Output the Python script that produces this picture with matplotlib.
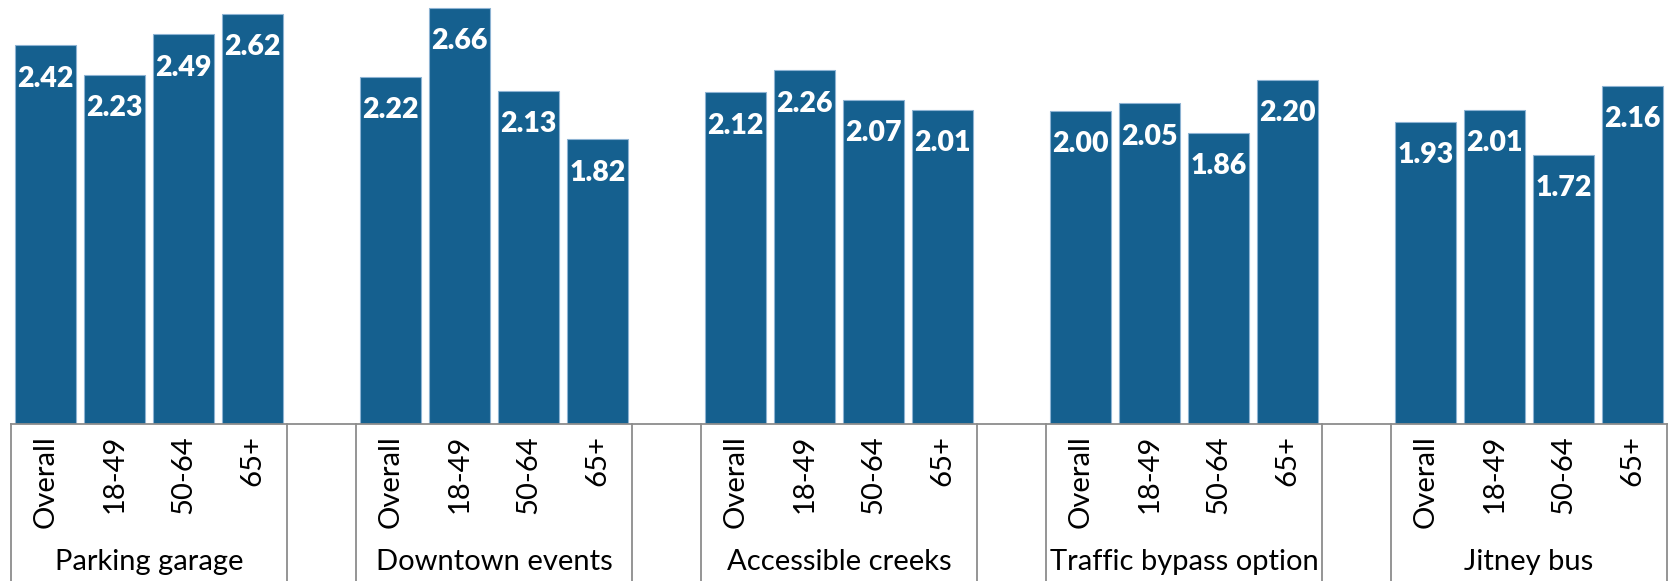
import matplotlib
matplotlib.use("Agg")
import matplotlib.pyplot as plt
import matplotlib.transforms as mtransforms

groups = ["Parking garage", "Downtown events", "Accessible creeks",
          "Traffic bypass option", "Jitney bus"]
subgroups = ["Overall", "18-49", "50-64", "65+"]
parking = [2.42, 2.23, 2.49, 2.62]
downtown = [2.22, 2.66, 2.13, 1.82]
creeks = [2.12, 2.26, 2.07, 2.01]
bypass = [2.00, 2.05, 1.86, 2.20]
jitney = [1.93, 2.01, 1.72, 2.16]
series = [parking, downtown, creeks, bypass, jitney]

W, H, DPI = 1669, 581, 100
fig = plt.figure(figsize=(W / DPI, H / DPI), dpi=DPI)
left, right = 11 / W, 1667 / W
axis_y = 424
ax = fig.add_axes([left, (H - axis_y) / H, right - left, axis_y / H])

bar_color = "#15608f"
edge_color = "#8db3d3"
line_color = "#8c8c8c"
font = ["Lato", "DejaVu Sans"]

xs, vals, ticklabels = [], [], []
pos = 0
group_ranges = []
for gi, (g, s) in enumerate(zip(groups, series)):
    start = pos
    for sub, v in zip(subgroups, s):
        xs.append(pos)
        vals.append(v)
        ticklabels.append(sub)
        pos += 1
    group_ranges.append((start, pos - 1))
    if gi < len(groups) - 1:
        pos += 1  # blank slot

bars = ax.bar(xs, vals, width=0.87, color=bar_color, edgecolor=edge_color, linewidth=0.8)
for x, v in zip(xs, vals):
    ax.annotate(f"{v:.2f}", (x, v), xytext=(0, -24), textcoords="offset points",
                ha="center", va="center", color="white", fontsize=20.5,
                fontweight="heavy", family=font)

ax.set_xlim(-0.5, pos - 0.5)
ax.set_ylim(0, 2.71)
ax.axis("off")

trans = mtransforms.blended_transform_factory(ax.transData, ax.transAxes)
bottom_frac = -(H - axis_y) / axis_y
# horizontal axis line
ax.plot([-0.5, pos - 0.5], [0, 0], transform=trans, color=line_color, lw=1.3,
        clip_on=False, zorder=3)
# separators
seps = set()
for (a, b) in group_ranges:
    seps.add(a - 0.5)
    seps.add(b + 0.5)
for sx in sorted(seps):
    ax.plot([sx, sx], [0, bottom_frac], transform=trans, color=line_color, lw=1.3,
            clip_on=False, zorder=3)

tick_top = -(435 - axis_y) / axis_y
for x, lab in zip(xs, ticklabels):
    ax.text(x, tick_top, lab, transform=trans, rotation=90, ha="center", va="top",
            fontsize=21, family=font, color="black")

grp_y = -(562 - axis_y) / axis_y
for g, (a, b) in zip(groups, group_ranges):
    ax.text((a + b) / 2, grp_y, g, transform=trans, ha="center", va="center",
            fontsize=21, family=font, color="black")

fig.savefig("out.png", dpi=DPI)
